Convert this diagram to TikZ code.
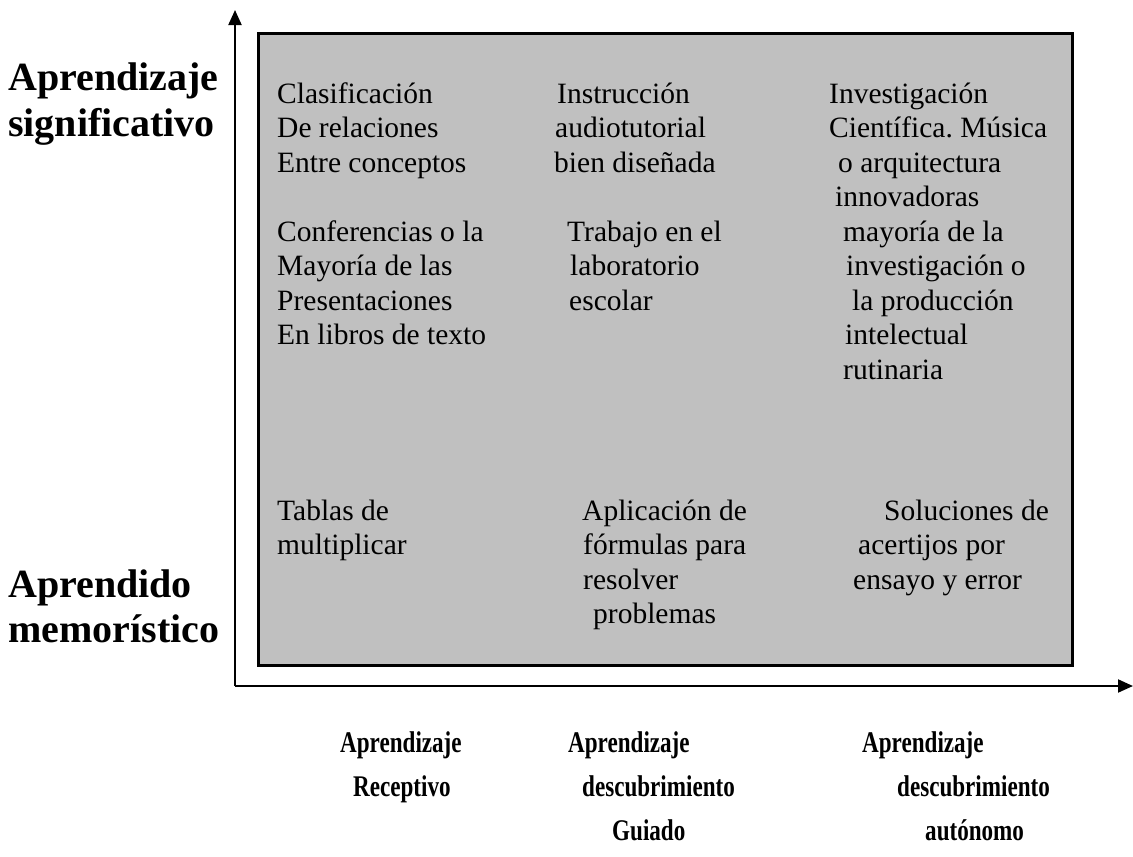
\documentclass[tikz,border=0pt]{standalone}
\usepackage{fontspec}
\setmainfont{Liberation Serif}
\usetikzlibrary{arrows.meta}
\frenchspacing
\begin{document}
\begin{tikzpicture}[x=1pt,y=-1pt,
  txt/.style={anchor=base west,inner sep=0pt,font=\fontsize{29.5}{34}\selectfont},
  big/.style={anchor=base west,inner sep=0pt,font=\fontsize{40}{45}\selectfont\bfseries},
  low/.style={anchor=base west,inner sep=0pt,font=\fontsize{30}{34}\selectfont\bfseries},
  axis/.style={line width=2pt,-{Triangle[length=15pt,width=13pt]}}]
\useasboundingbox (0,0) rectangle (1133,857);
% frame
\node[draw=black,line width=3pt,fill={rgb,255:red,192;green,192;blue,192},minimum width=814pt,minimum height=632pt,inner sep=0pt,anchor=north west] (box) at (257,32) {};
% axes
\coordinate (o) at (235,686);
\coordinate (ytip) at (235,10);
\coordinate (xtip) at (1133,686);
\draw[axis] (o) -- (ytip);
\draw[axis] (o) -- (xtip);
% left labels
\node[big] (l1) at (8,90) {Aprendizaje};
\node[big] (l2) at (8,136) {significativo};
\node[big] (l3) at (8,597) {Aprendido};
\node[big] (l4) at (8,642) {memorístico};
% column 1 upper
\node[txt] (a1) at (277,103) {Clasificación};
\node[txt] (a2) at (277,137.5) {De relaciones};
\node[txt] (a3) at (277,172) {Entre conceptos};
\node[txt] (a4) at (277,241) {Conferencias o la};
\node[txt] (a5) at (277,275.5) {Mayoría de las};
\node[txt] (a6) at (277,310) {Presentaciones};
\node[txt] (a7) at (277,344.5) {En libros de texto};
% column 2 upper
\node[txt] (b1) at (557,103) {Instrucción};
\node[txt] (b2) at (555,137.5) {audiotutorial};
\node[txt] (b3) at (554,172) {bien diseñada};
\node[txt] (b4) at (567,241) {Trabajo en el};
\node[txt] (b5) at (570,275.5) {laboratorio};
\node[txt] (b6) at (569,310) {escolar};
% column 3 upper
\node[txt] (c1) at (829,103) {Investigación};
\node[txt] (c2) at (829,137.5) {Científica. Música};
\node[txt] (c3) at (838,172) {o arquitectura};
\node[txt] (c4) at (835,206.5) {innovadoras};
\node[txt] (c5) at (843,241) {mayoría de la};
\node[txt] (c6) at (846,275.5) {investigación o};
\node[txt] (c7) at (852,310) {la producción};
\node[txt] (c8) at (845,344.5) {intelectual};
\node[txt] (c9) at (843,379) {rutinaria};
% lower block
\node[txt] (d1) at (277,520) {Tablas de};
\node[txt] (d2) at (277,554.5) {multiplicar};
\node[txt] (e1) at (582,520) {Aplicación de};
\node[txt] (e2) at (583,554.5) {fórmulas para};
\node[txt] (e3) at (583,589) {resolver};
\node[txt] (e4) at (593,623.5) {problemas};
\node[txt] (f1) at (884,520) {Soluciones de};
\node[txt] (f2) at (858,554.5) {acertijos por};
\node[txt] (f3) at (853,589) {ensayo y error};
% bottom labels
\node[low] (g1) at (340,752) {\scalebox{0.77}[1]{Aprendizaje}};
\node[low] (g2) at (353,796) {\scalebox{0.77}[1]{Receptivo}};
\node[low] (h1) at (568,752) {\scalebox{0.77}[1]{Aprendizaje}};
\node[low] (h2) at (582,796) {\scalebox{0.77}[1]{descubrimiento}};
\node[low] (h3) at (612,840) {\scalebox{0.77}[1]{Guiado}};
\node[low] (k1) at (862,752) {\scalebox{0.77}[1]{Aprendizaje}};
\node[low] (k2) at (897,796) {\scalebox{0.77}[1]{descubrimiento}};
\node[low] (k3) at (925,840) {\scalebox{0.77}[1]{autónomo}};
\end{tikzpicture}
\end{document}
